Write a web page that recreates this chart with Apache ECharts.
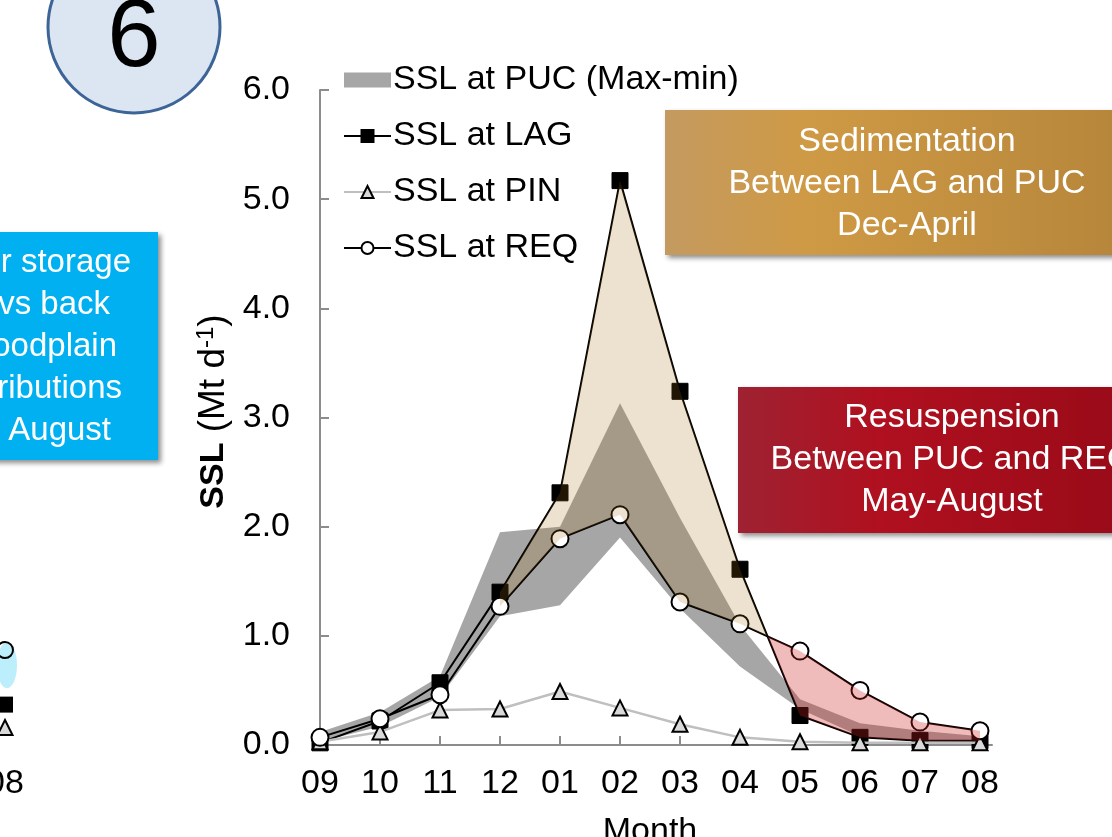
<!DOCTYPE html>
<html>
<head>
<meta charset="utf-8">
<script src="https://cdn.jsdelivr.net/npm/echarts@6/dist/echarts.min.js"></script>
<style>
html,body{margin:0;padding:0;background:#fff;}
#chart{width:1112px;height:837px;}
</style>
</head>
<body>
<div id="chart"></div>
<script>
// ---- data ----
const months = ['09','10','11','12','01','02','03','04','05','06','07','08'];
const yTicks = [0,1,2,3,4,5,6];
const lagSSL = [0.02,0.22,0.57,1.40,2.31,5.17,3.24,1.61,0.27,0.07,0.04,0.04];
const pinSSL = [0.03,0.12,0.32,0.33,0.49,0.34,0.19,0.07,0.03,0.02,0.02,0.02];
const reqSSL = [0.07,0.24,0.46,1.27,1.89,2.11,1.31,1.11,0.86,0.50,0.21,0.13];
const pucMax = [0.12,0.30,0.63,1.95,2.00,3.13,2.08,1.10,0.42,0.20,0.13,0.08];
const pucMin = [0.03,0.17,0.44,1.18,1.28,1.90,1.25,0.72,0.33,0.08,0.04,0.02];
// fragment of the neighbouring chart (only its last month is visible)
const leftREQ = [0.87];
const leftLAG = [0.37];
const leftPIN = [0.16];
const leftBandTop = [0.94];
const leftBandBottom = [0.52];

const FONT = 'Liberation Sans, Arial, sans-serif';
const monthIdx = months.map((m, i) => i);

// ---- derived polygons ----
const bandPts = [];
for (let i = 0; i < months.length; i++) bandPts.push([i, pucMax[i]]);
for (let i = months.length - 1; i >= 0; i--) bandPts.push([i, pucMin[i]]);

// crossing of LAG and REQ after the peak
let xc = 7, yc = lagSSL[7], ci = 7;
for (let i = 5; i < months.length - 1; i++) {
  const d0 = lagSSL[i] - reqSSL[i], d1 = lagSSL[i + 1] - reqSSL[i + 1];
  if (d0 > 0 && d1 <= 0) {
    const t = d0 / (d0 - d1);
    xc = i + t; yc = lagSSL[i] + t * (lagSSL[i + 1] - lagSSL[i]); ci = i;
    break;
  }
}
const sedStart = 3; // Dec
const sedPts = [];
for (let i = sedStart; i <= ci; i++) sedPts.push([i, lagSSL[i]]);
sedPts.push([xc, yc]);
for (let i = ci; i >= sedStart; i--) sedPts.push([i, reqSSL[i]]);

const resPts = [[xc, yc]];
for (let i = ci + 1; i < months.length; i++) resPts.push([i, reqSSL[i]]);
for (let i = months.length - 1; i > ci; i--) resPts.push([i, lagSSL[i]]);

function polygonSeries(name, pts, fill, z, extra) {
  return Object.assign({
    type: 'custom', name: name, z: z, silent: true,
    xAxisIndex: 0, yAxisIndex: 0,
    data: pts,
    renderItem: function (params, api) {
      if (params.dataIndex !== 0) return null;
      return {
        type: 'polygon',
        shape: { points: pts.map(p => api.coord(p)) },
        style: { fill: fill }
      };
    }
  }, extra || {});
}

const chart = echarts.init(document.getElementById('chart'), null, { renderer: 'canvas' });

const axisLabelStyle = { color: '#000', fontSize: 34, fontFamily: FONT };

const option = {
  animation: false,
  backgroundColor: '#fff',
  textStyle: { fontFamily: FONT },
  grid: [
    { left: 320, right: 120, top: 90, bottom: 92, outerBoundsMode: 'none', containLabel: false },
    { left: -600, width: 605, top: 90, bottom: 92, outerBoundsMode: 'none', containLabel: false }
  ],
  xAxis: [
    {
      type: 'value', gridIndex: 0, min: 0, max: months.length - 1 + 0.2,
      axisLine: { show: true, onZero: false, lineStyle: { color: '#8c8c8c', width: 2 } },
      axisTick: { show: true, inside: true, length: 9, customValues: monthIdx, lineStyle: { color: '#8c8c8c', width: 2 } },
      splitLine: { show: false },
      axisLabel: Object.assign({ margin: 22, customValues: monthIdx, formatter: v => months[Math.round(v)] }, axisLabelStyle),
      name: 'Month', nameLocation: 'middle', nameGap: 70,
      nameTextStyle: { color: '#000', fontSize: 34, fontFamily: FONT, padding: [0, 12, 0, 0] }
    },
    {
      type: 'value', gridIndex: 1, min: 0, max: months.length - 1, interval: 1,
      axisLine: { show: false }, axisTick: { show: false }, splitLine: { show: false },
      axisLabel: Object.assign({ margin: 22, formatter: v => months[v] }, axisLabelStyle)
    }
  ],
  yAxis: [
    {
      type: 'value', gridIndex: 0, min: yTicks[0], max: yTicks[yTicks.length - 1], interval: 1,
      axisLine: { show: true, lineStyle: { color: '#8c8c8c', width: 2 } },
      axisTick: { show: true, inside: true, length: 9, lineStyle: { color: '#8c8c8c', width: 2 } },
      splitLine: { show: false },
      axisLabel: Object.assign({ margin: 30, formatter: v => v.toFixed(1) }, axisLabelStyle),
      name: '{b|SSL}{n| (Mt d}{s|-1}{n|)}', nameLocation: 'middle', nameGap: 75, nameRotate: 90,
      nameTextStyle: {
        color: '#000', fontFamily: FONT, padding: [0, 0, 0, 12],
        rich: {
          b: { fontSize: 34, fontWeight: 'bold', color: '#000', fontFamily: FONT, lineHeight: 38 },
          n: { fontSize: 37, color: '#000', fontFamily: FONT, lineHeight: 38 },
          s: { fontSize: 24, color: '#000', fontFamily: FONT, verticalAlign: 'top', lineHeight: 38 }
        }
      }
    },
    {
      type: 'value', gridIndex: 1, min: 0, max: 6, interval: 1, show: false
    }
  ],
  legend: {
    orient: 'vertical', left: 338, top: 55,
    itemWidth: 47, itemHeight: 15, itemGap: 16,
    selectedMode: false,
    textStyle: { color: '#000', fontSize: 34, fontFamily: FONT, lineHeight: 40, padding: [0, 0, 0, -3] },
    data: [
      { name: 'SSL at PUC (Max-min)', icon: 'rect' },
      { name: 'SSL at LAG' },
      { name: 'SSL at PIN' },
      { name: 'SSL at REQ' }
    ]
  },
  series: [
    polygonSeries('SSL at PUC (Max-min)', bandPts, '#a6a6a6', 1, { itemStyle: { color: '#a6a6a6' } }),
    {
      type: 'line', name: 'SSL at LAG', z: 3,
      data: lagSSL.map((v, i) => [i, v]),
      symbol: 'rect', symbolSize: 16,
      lineStyle: { color: '#000', width: 2 },
      itemStyle: { color: '#000', borderColor: '#000', borderWidth: 1 }
    },
    {
      type: 'line', name: 'SSL at PIN', z: 4,
      data: pinSSL.map((v, i) => [i, v]),
      symbol: 'triangle', symbolSize: 15,
      lineStyle: { color: '#bfbfbf', width: 2.5 },
      itemStyle: { color: '#d9d9d9', borderColor: '#000', borderWidth: 2 }
    },
    {
      type: 'line', name: 'SSL at REQ', z: 5,
      data: reqSSL.map((v, i) => [i, v]),
      symbol: 'circle', symbolSize: 17,
      lineStyle: { color: '#000', width: 2 },
      itemStyle: { color: '#fff', borderColor: '#000', borderWidth: 2 }
    },
    polygonSeries('sedimentation', sedPts, 'rgba(165,110,20,0.2)', 6),
    polygonSeries('resuspension', resPts, 'rgba(205,30,30,0.3)', 6),
    // neighbouring chart fragment
    {
      type: 'custom', name: 'left band', xAxisIndex: 1, yAxisIndex: 1, z: 2, silent: true, clip: false,
      data: leftBandTop.map((v, k) => [months.length - 1, v, leftBandBottom[k]]),
      renderItem: function (params, api) {
        const top = api.coord([api.value(0), api.value(1)]);
        const bot = api.coord([api.value(0), api.value(2)]);
        return {
          type: 'ellipse',
          shape: { cx: top[0] + 2, cy: (top[1] + bot[1]) / 2, rx: 10, ry: (bot[1] - top[1]) / 2 },
          style: { fill: '#bdeefc' }
        };
      }
    },
    {
      type: 'line', name: 'left LAG', xAxisIndex: 1, yAxisIndex: 1, z: 3, clip: false,
      data: leftLAG.map(v => [months.length - 1, v]), symbol: 'rect', symbolSize: 16,
      itemStyle: { color: '#000' }
    },
    {
      type: 'line', name: 'left PIN', xAxisIndex: 1, yAxisIndex: 1, z: 4, clip: false,
      data: leftPIN.map(v => [months.length - 1, v]), symbol: 'triangle', symbolSize: 15,
      itemStyle: { color: '#d9d9d9', borderColor: '#000', borderWidth: 2 }
    },
    {
      type: 'line', name: 'left REQ', xAxisIndex: 1, yAxisIndex: 1, z: 5, clip: false,
      data: leftREQ.map(v => [months.length - 1, v]), symbol: 'circle', symbolSize: 16,
      itemStyle: { color: 'rgba(255,255,255,0)', borderColor: '#000', borderWidth: 2 }
    }
  ],
  graphic: [
    // panel number
    {
      type: 'circle', shape: { cx: 134, cy: 27, r: 86 },
      style: { fill: '#dce6f2', stroke: '#3c6496', lineWidth: 3 }, z: 10
    },
    {
      type: 'text', x: 134, y: 40, z: 11,
      style: { text: '6', fill: '#000', font: '96px ' + FONT, textAlign: 'center', textVerticalAlign: 'middle' }
    },
    // blue box (neighbouring panel)
    {
      type: 'rect', shape: { x: -200, y: 232, width: 358, height: 228 }, z: 10,
      style: { fill: '#00b0f0', shadowBlur: 5, shadowOffsetX: 3, shadowOffsetY: 3, shadowColor: 'rgba(0,0,0,0.45)' }
    },
    { type: 'text', x: 131, y: 263, z: 11, style: { text: 'r storage', fill: '#fff', font: '33px ' + FONT, textAlign: 'right', textVerticalAlign: 'middle' } },
    { type: 'text', x: 110, y: 305, z: 11, style: { text: 'vs back', fill: '#fff', font: '33px ' + FONT, textAlign: 'right', textVerticalAlign: 'middle' } },
    { type: 'text', x: 117, y: 347, z: 11, style: { text: 'oodplain', fill: '#fff', font: '33px ' + FONT, textAlign: 'right', textVerticalAlign: 'middle' } },
    { type: 'text', x: 122, y: 389, z: 11, style: { text: 'ributions', fill: '#fff', font: '33px ' + FONT, textAlign: 'right', textVerticalAlign: 'middle' } },
    { type: 'text', x: 111, y: 431, z: 11, style: { text: 'August', fill: '#fff', font: '33px ' + FONT, textAlign: 'right', textVerticalAlign: 'middle' } },
    // sedimentation box
    {
      type: 'rect', shape: { x: 665, y: 110, width: 470, height: 145 }, z: 10,
      style: {
        fill: new echarts.graphic.LinearGradient(0, 0, 1, 0, [
          { offset: 0, color: '#c49a60' }, { offset: 0.3, color: '#cf9a45' }, { offset: 1, color: '#b5853a' }
        ]),
        shadowBlur: 5, shadowOffsetX: 3, shadowOffsetY: 3, shadowColor: 'rgba(0,0,0,0.45)'
      }
    },
    {
      type: 'text', x: 907, y: 184, z: 11,
      style: { text: 'Sedimentation\nBetween LAG and PUC\nDec-April', fill: '#fff', font: '34px ' + FONT,
        lineHeight: 42, textAlign: 'center', textVerticalAlign: 'middle' }
    },
    // resuspension box
    {
      type: 'rect', shape: { x: 738, y: 387, width: 400, height: 146 }, z: 10,
      style: {
        fill: new echarts.graphic.LinearGradient(0, 0, 1, 0, [
          { offset: 0, color: '#9e2232' }, { offset: 0.35, color: '#b0101f' }, { offset: 1, color: '#980a18' }
        ]),
        shadowBlur: 5, shadowOffsetX: 3, shadowOffsetY: 3, shadowColor: 'rgba(0,0,0,0.45)'
      }
    },
    {
      type: 'text', x: 952, y: 460, z: 11,
      style: { text: 'Resuspension\nBetween PUC and REQ\nMay-August', fill: '#fff', font: '34px ' + FONT,
        lineHeight: 42, textAlign: 'center', textVerticalAlign: 'middle' }
    }
  ]
};
chart.setOption(option);
</script>
</body>
</html>
